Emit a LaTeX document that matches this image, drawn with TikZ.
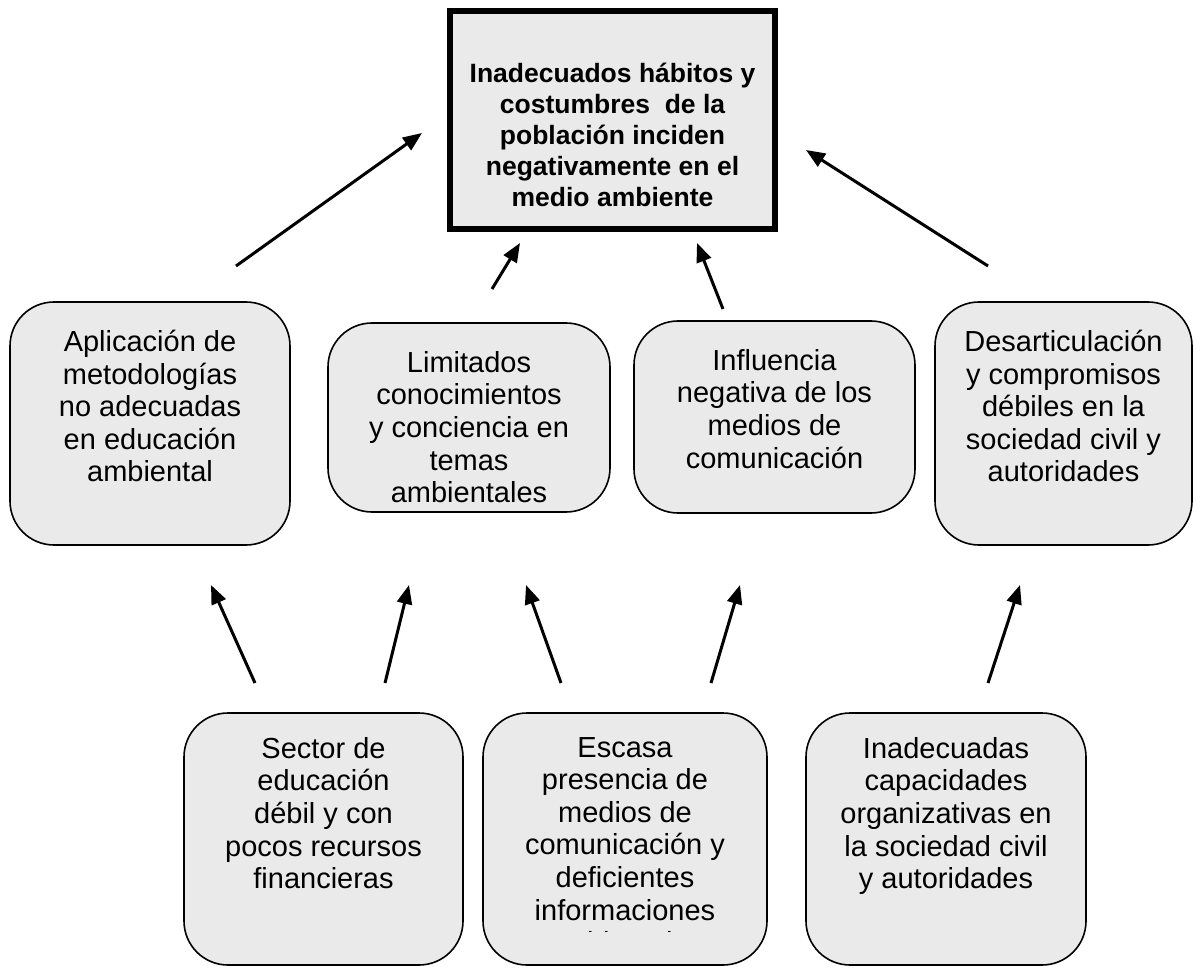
\documentclass[tikz,border=0pt]{standalone}
\usepackage{fontspec}
\setmainfont{Liberation Sans}
\usetikzlibrary{arrows.meta}
\definecolor{boxgray}{HTML}{EAEAEA}
\tikzset{
  cbox/.style={draw=black, fill=boxgray, line width=1.6pt, rounded corners=44pt, inner sep=0pt},
  mainbox/.style={draw=black, fill=boxgray, line width=6pt, inner sep=0pt},
  ctext/.style={anchor=north, align=center, inner sep=0pt, font=\fontsize{29}{32.6}\selectfont},
  maintext/.style={anchor=north, align=center, inner sep=0pt, font=\bfseries\fontsize{26.5}{31}\selectfont},
  arr/.style={line width=3pt, -{Triangle[length=19pt,width=15pt]}}
}
\begin{document}
\begin{tikzpicture}[x=1pt,y=-1pt]
\useasboundingbox (0,0) rectangle (1202,968);
% main box
\node[mainbox, minimum width=325pt, minimum height=218pt] (top) at (612.5,120) {};
\node[maintext] (toptext) at (612.5,63) {Inadecuados hábitos y\\costumbres~ de la\\población inciden\\negativamente en el\\medio ambiente};
% middle row
\node[cbox, minimum width=280pt, minimum height=243pt] (b1) at (150,423.5) {};
\node[cbox, minimum width=282pt, minimum height=189pt] (b2) at (469,417.5) {};
\node[cbox, minimum width=281pt, minimum height=192pt] (b3) at (774.5,417) {};
\node[cbox, minimum width=257pt, minimum height=243pt] (b4) at (1063.5,423.5) {};
\node[ctext] (t1) at (150,330) {Aplicación de\\metodologías\\no adecuadas\\en educación\\ambiental};
\node[ctext] (t2) at (469,351) {Limitados\\conocimientos\\y conciencia en\\temas\\ambientales};
\node[ctext] (t3) at (774.5,349) {Influencia\\negativa de los\\medios de\\comunicación};
\node[ctext] (t4) at (1063.5,330) {Desarticulación\\y compromisos\\débiles en la\\sociedad civil y\\autoridades};
% bottom row
\node[cbox, minimum width=279pt, minimum height=252pt] (b5) at (323.5,839) {};
\node[cbox, minimum width=284pt, minimum height=252pt] (b6) at (625,839) {};
\node[cbox, minimum width=280pt, minimum height=252pt] (b7) at (946,839) {};
\node[ctext] (t5) at (323.5,737) {Sector de\\educación\\débil y con\\pocos recursos\\financieras};
\begin{scope}
\clip (483,713) rectangle (767,931);
\node[ctext] (t6) at (625,737) {Escasa\\presencia de\\medios de\\comunicación y\\deficientes\\informaciones\\ambientales};
\end{scope}
\node[ctext] (t7) at (946,737) {Inadecuadas\\capacidades\\organizativas en\\la sociedad civil\\y autoridades};
% arrow coordinates
\coordinate (a1s) at (236,266); \coordinate (a1e) at (422,133);
\coordinate (a2s) at (492,289); \coordinate (a2e) at (520,243);
\coordinate (a3s) at (723,309); \coordinate (a3e) at (697,243);
\coordinate (a4s) at (988,266); \coordinate (a4e) at (806,150);
\coordinate (c1s) at (255,683); \coordinate (c1e) at (211,585);
\coordinate (c2s) at (385,683); \coordinate (c2e) at (409,585);
\coordinate (c3s) at (561,683); \coordinate (c3e) at (526,585);
\coordinate (c4s) at (711,683); \coordinate (c4e) at (740,585);
\coordinate (c5s) at (988,683); \coordinate (c5e) at (1020,585);
\foreach \n in {a1,a2,a3,a4,c1,c2,c3,c4,c5} {
  \draw[arr] (\n s) -- (\n e);
}
\end{tikzpicture}
\end{document}
